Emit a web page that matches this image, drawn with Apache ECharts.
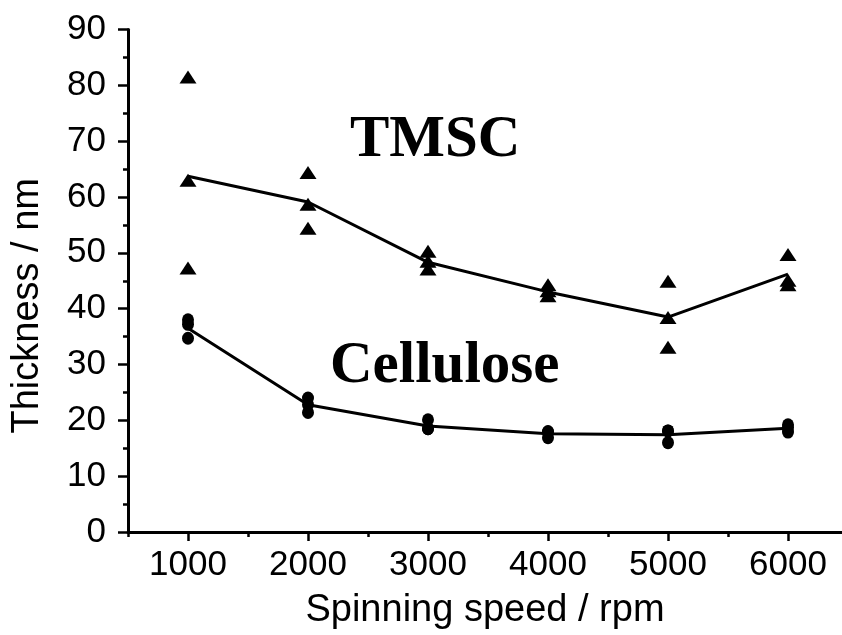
<!DOCTYPE html>
<html>
<head>
<meta charset="utf-8">
<script src="https://cdn.jsdelivr.net/npm/echarts@6/dist/echarts.min.js"></script>
<style>
  html, body { margin: 0; padding: 0; background: #fff; }
  #chart { width: 842px; height: 635px; }
</style>
</head>
<body>
<div id="chart"></div>
<script>
// ---- data ----
const speeds = [1000, 2000, 3000, 4000, 5000, 6000];
const majorTicksX = [1000, 2000, 3000, 4000, 5000, 6000];
const minorTicksX = [500, 1500, 2500, 3500, 4500, 5500];

// TMSC: three measurements per speed and the averaged line
const tmscRun1 = [81.5, 64.4, 50.3, 44.3, 44.9, 49.7];
const tmscRun2 = [63.0, 58.7, 48.5, 43.2, 38.4, 45.1];
const tmscRun3 = [47.3, 54.4, 47.1, 42.3, 33.1, 44.3];
const tmscMean = [63.7, 59.1, 48.3, 43.0, 38.5, 46.2];

// Cellulose: three measurements per speed and the averaged line
const celRun1 = [38.0, 24.0, 20.1, 17.9, 18.1, 19.2];
const celRun2 = [37.2, 21.4, 18.5, 16.9, 16.0, 17.9];
const celRun3 = [34.7, 22.8, 18.5, 18.0, 18.1, 18.7];
const celMean = [36.5, 22.8, 19.0, 17.6, 17.4, 18.6];

const xTitle = 'Spinning speed / rpm';
const yTitle = 'Thickness / nm';
const labelTMSC = 'TMSC';
const labelCellulose = 'Cellulose';

// ---- build ----
function pairs(xs, ys) { return xs.map((x, i) => [x, ys[i]]); }
function allRuns(runs) {
  const out = [];
  runs.forEach(r => r.forEach((v, i) => out.push([speeds[i], v])));
  return out;
}

const chart = echarts.init(document.getElementById('chart'), null, { renderer: 'canvas' });
const black = '#000';
const font = "'Liberation Sans', Arial, sans-serif";
const serif = "'Liberation Serif', 'Times New Roman', serif";

chart.setOption({
  animation: false,
  backgroundColor: '#fff',
  grid: { left: 128, right: 0, top: 29.5, bottom: 101.5, containLabel: false },
  xAxis: [{
    type: 'value', min: 500, max: 6450,
    axisLine: { show: true, onZero: false, lineStyle: { color: black, width: 3 } },
    axisTick: { show: true, customValues: majorTicksX, length: 9, lineStyle: { color: black, width: 2.5 } },
    axisLabel: { customValues: majorTicksX, color: black, fontSize: 35, fontFamily: font, margin: 16,
                 formatter: v => String(v) },
    splitLine: { show: false },
    name: xTitle, nameLocation: 'middle', nameGap: 60,
    nameTextStyle: { color: black, fontSize: 38, fontFamily: font }
  }, {
    type: 'value', min: 500, max: 6450, position: 'bottom',
    axisLine: { show: false },
    axisTick: { show: true, customValues: minorTicksX, length: 5, lineStyle: { color: black, width: 2.5 } },
    axisLabel: { show: false },
    splitLine: { show: false }
  }],
  yAxis: {
    type: 'value', min: 0, max: 90, interval: 10,
    axisLine: { show: true, lineStyle: { color: black, width: 3 } },
    axisTick: { show: true, length: 10, lineStyle: { color: black, width: 2.5 } },
    minorTick: { show: true, splitNumber: 2, length: 5, lineStyle: { color: black, width: 2.5 } },
    axisLabel: { color: black, fontSize: 35, fontFamily: font, margin: 22,
                 formatter: v => String(v) },
    splitLine: { show: false },
    name: yTitle, nameLocation: 'middle', nameGap: 81, nameRotate: 90,
    nameTextStyle: { color: black, fontSize: 38, fontFamily: font, padding: [0, 50, 0, 0] }
  },
  series: [
    { type: 'line', data: pairs(speeds, tmscMean), symbol: 'none',
      lineStyle: { color: black, width: 3 }, z: 2 },
    { type: 'line', data: pairs(speeds, celMean), symbol: 'none',
      lineStyle: { color: black, width: 3 }, z: 2 },
    { type: 'scatter', data: allRuns([tmscRun1, tmscRun2, tmscRun3]), symbol: 'triangle',
      symbolSize: [17, 13], itemStyle: { color: black, opacity: 1 }, z: 3 },
    { type: 'scatter', data: allRuns([celRun1, celRun2, celRun3]), symbol: 'circle',
      symbolSize: [12, 13], itemStyle: { color: black, opacity: 1 }, z: 3 }
  ],
  graphic: [
    { type: 'text', left: 350, top: 111,
      style: { text: labelTMSC, fill: black, fontSize: 59, fontWeight: 'bold', fontFamily: serif } },
    { type: 'text', left: 330, top: 337,
      style: { text: labelCellulose, fill: black, fontSize: 59, fontWeight: 'bold', fontFamily: serif } }
  ]
});
</script>
</body>
</html>
